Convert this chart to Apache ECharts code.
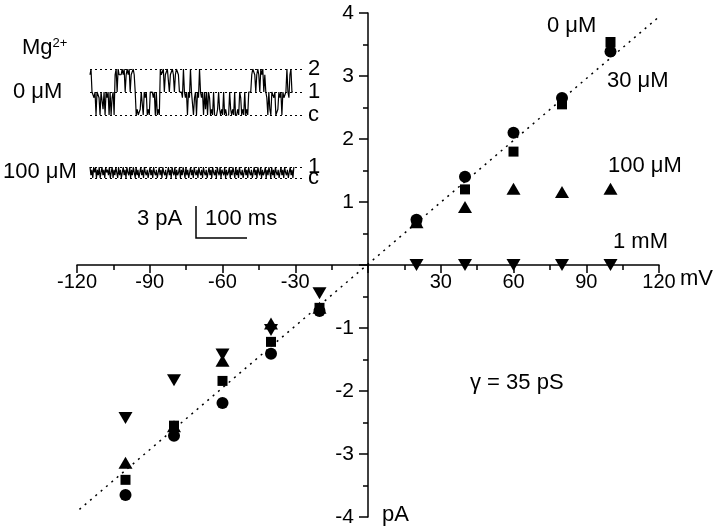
<!DOCTYPE html>
<html lang="en">
<head>
    <meta charset="UTF-8">
    <title>Mg block I-V</title>
    <style>
        html, body { margin: 0; padding: 0; background: #fff; }
        #main { width: 720px; height: 529px; }
    </style>
</head>
<body>
    <div id="main"></div>
    <script src="https://cdn.jsdelivr.net/npm/echarts@6/dist/echarts.min.js"></script>
    <script>
        // voltages (mV)
        var vNeg = [-100, -80, -60, -40, -20];
        var vPos = [20, 40, 60, 80, 100];
        // currents (pA) per Mg2+ concentration
        var mg0Neg = [-3.65, -2.71, -2.19, -1.41, -0.73];
        var mg0Pos = [0.72, 1.40, 2.10, 2.65, 3.39];
        var mg30Neg = [-3.41, -2.55, -1.84, -1.22, -0.68];
        var mg30Pos = [0.69, 1.20, 1.80, 2.55, 3.54];
        var mg100Neg = [-3.14, -2.56, -1.52, -0.93, -0.68];
        var mg100Pos = [0.68, 0.92, 1.21, 1.16, 1.21];
        var mg1mNeg = [-2.43, -1.83, -1.42, -1.03, -0.45];
        var mg1mPos = [0, 0, 0, 0, 0];
        // fit line, 35 pS
        var fitV = [-119, 120];
        var fitI = [-3.88, 3.94];
        // single channel records, one digit per sample: 1 = c, 5 = level 1, 9 = level 2
        var trace0 = [
            '89554515', '54155251545151451', '89598889895898958898',
            '5121125515451215554515121', '98895889958898589985',
            '554954515495514515495451525154',
            '1215101252121512101521215012154121512155',
            '589985898598958', '5415215545112545154459548955'
        ].join('');
        var trace100 = [
            '5241535142513524153425135142531524135241',
            '5325142531524135241532413524153241352415',
            '3241352415325142351425315241352415324153',
            '2415324135241532415325143251423514253152',
            '4153241352415324135241532514235142531524',
            '1532413524153241352415'
        ].join('');

        function pairs(xs, ys) {
            var out = [];
            for (var i = 0; i < xs.length; i++) out.push([xs[i], ys[i]]);
            return out;
        }
        function traceData(s) {
            var out = [];
            for (var i = 0; i < s.length; i++) out.push([i, (+s[i] - 1) / 4]);
            return out;
        }

        var font = 'Liberation Sans, Arial, sans-serif';
        var myChart = echarts.init(document.getElementById('main'));

        function levelLines(levels) {
            return {
                symbol: 'none',
                silent: true,
                lineStyle: { color: '#000', type: [2, 3], width: 1 },
                label: { position: 'end', distance: 4, fontSize: 22, fontFamily: font, color: '#000', formatter: function (p) { return p.name; } },
                data: levels.map(function (l) { return { name: l[0], yAxis: l[1] }; })
            };
        }

        // plain text helper, x = left edge, y = vertical centre
        function txt(x, y, s) {
            return { type: 'text', x: x, y: y, style: { text: s, font: '22px ' + font, fill: '#000', verticalAlign: 'middle' } };
        }

        var blackLine = { color: '#000', width: 1.5 };

        var option = {
            animation: false,
            grid: [
                { left: 77, right: 61, top: 13, bottom: 12 },
                { left: 90, top: 69, width: 214, height: 46 },
                { left: 90, top: 167, width: 214, height: 11 }
            ],
            xAxis: [{
                type: 'value', min: -120, max: 120, interval: 30,
                position: 'bottom', offset: -252,
                axisLine: { onZero: false, lineStyle: blackLine },
                splitLine: { show: false },
                axisTick: { length: 8, lineStyle: blackLine },
                minorTick: { show: true, splitNumber: 2, length: 5, lineStyle: blackLine },
                axisLabel: {
                    margin: 7, fontSize: 20, fontFamily: font, color: '#000',
                    formatter: function (v) { return v === 0 ? '' : v; }
                }
            }, {
                gridIndex: 1, type: 'value', min: 0, max: trace0.length + 10, show: false
            }, {
                gridIndex: 2, type: 'value', min: 0, max: trace100.length + 10, show: false
            }],
            yAxis: [{
                type: 'value', min: -4, max: 4, interval: 1,
                position: 'left', offset: -291,
                axisLine: { onZero: false, lineStyle: blackLine },
                splitLine: { show: false },
                axisTick: { length: 9, lineStyle: blackLine },
                minorTick: { show: true, splitNumber: 2, length: 5, lineStyle: blackLine },
                axisLabel: {
                    margin: 14, fontSize: 21, fontFamily: font, color: '#000',
                    formatter: function (v) { return v === 0 ? '' : v; }
                }
            }, {
                gridIndex: 1, type: 'value', min: 0, max: 2, show: false
            }, {
                gridIndex: 2, type: 'value', min: 0, max: 1, show: false
            }],
            series: [
                {
                    type: 'line', data: pairs(fitV, fitI), showSymbol: false, silent: true,
                    lineStyle: { color: '#000', width: 1.5, type: [2, 5] }
                },
                { type: 'scatter', symbol: 'circle', symbolSize: 12, itemStyle: { color: '#000', opacity: 1 }, data: pairs(vNeg, mg0Neg).concat(pairs(vPos, mg0Pos)) },
                { type: 'scatter', symbol: 'rect', symbolSize: 10, itemStyle: { color: '#000', opacity: 1 }, data: pairs(vNeg, mg30Neg).concat(pairs(vPos, mg30Pos)) },
                { type: 'scatter', symbol: 'triangle', symbolSize: [14, 12], itemStyle: { color: '#000', opacity: 1 }, data: pairs(vNeg, mg100Neg).concat(pairs(vPos, mg100Pos)) },
                { type: 'scatter', symbol: 'triangle', symbolRotate: 180, symbolSize: [14, 12], itemStyle: { color: '#000', opacity: 1 }, data: pairs(vNeg, mg1mNeg).concat(pairs(vPos, mg1mPos)) },
                {
                    type: 'line', xAxisIndex: 1, yAxisIndex: 1, data: traceData(trace0),
                    showSymbol: false, lineStyle: { color: '#000', width: 1.2 },
                    markLine: levelLines([['2', 2], ['1', 1], ['c', 0]])
                },
                {
                    type: 'line', xAxisIndex: 2, yAxisIndex: 2, data: traceData(trace100),
                    showSymbol: false, lineStyle: { color: '#000', width: 1.2 },
                    markLine: levelLines([['1', 1], ['c', 0]])
                }
            ],
            graphic: [
                {
                    type: 'text', x: 22, y: 48,
                    style: {
                        text: '{b|Mg}{s|2+}', fill: '#000', verticalAlign: 'middle',
                        rich: { b: { fontSize: 22, fontFamily: font }, s: { fontSize: 13, fontFamily: font, verticalAlign: 'top', padding: [0, 0, 10, 0] } }
                    }
                },
                txt(13, 92, '0 μM'),
                txt(3, 172, '100 μM'),
                txt(137, 219, '3 pA'),
                txt(205, 219, '100 ms'),
                { type: 'polyline', shape: { points: [[196, 206], [196, 238], [247, 238]] }, style: { stroke: '#000', lineWidth: 1.5, fill: null } },
                txt(547, 26, '0 μM'),
                txt(607, 81, '30 μM'),
                txt(608, 166, '100 μM'),
                txt(613, 242, '1 mM'),
                txt(470, 383, 'γ = 35 pS'),
                txt(680, 279, 'mV'),
                txt(382, 515, 'pA')
            ]
        };
        myChart.setOption(option);
    </script>
</body>
</html>
